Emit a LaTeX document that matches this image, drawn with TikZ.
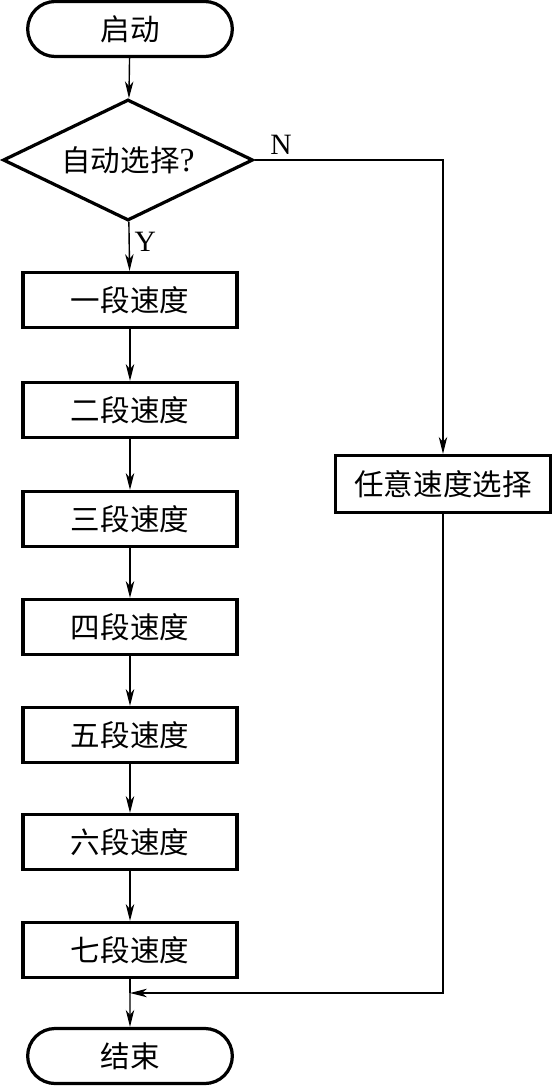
\documentclass[tikz,border=0pt]{standalone}
\usepackage{fontspec}
\setmainfont{Liberation Serif}
\newfontfamily\cjk{Noto Sans CJK SC}
\usetikzlibrary{arrows.meta,shapes.geometric,shapes.misc}

\begin{document}
\begin{tikzpicture}[
    x=0.025cm, y=-0.025cm,
    term/.style={rounded rectangle, draw, line width=2.3pt, minimum height=1.375cm,
                 minimum width=5.35cm, font=\cjk\fontsize{21}{25}\selectfont},
    box/.style={draw, line width=2.3pt, minimum height=1.37cm,
                minimum width=5.35cm, font=\cjk\fontsize{21}{25}\selectfont},
    choice/.style={diamond, draw, line width=2.3pt, aspect=2.07, inner sep=0pt,
                   minimum width=6.25cm, minimum height=3.025cm,
                   font=\cjk\fontsize{21}{25}\selectfont},
    flow/.style={-{Stealth[length=12pt, width=6pt, inset=3.5pt]}, line width=1pt},
    note/.style={font=\fontsize{21}{25}\selectfont},
]
    \useasboundingbox (0,0) rectangle (552,1087);

    \node[term] (start) at (130,29) {启动};
    \node[choice] (auto) at (128,160) {自动选择{\rmfamily\fontsize{24}{26}\selectfont ?}};
    \node[box] (s1) at (130,300) {一段速度};
    \node[box] (s2) at (130,410) {二段速度};
    \node[box] (s3) at (130,519) {三段速度};
    \node[box] (s4) at (130,627) {四段速度};
    \node[box] (s5) at (130,735) {五段速度};
    \node[box] (s6) at (130,842) {六段速度};
    \node[box] (s7) at (130,950) {七段速度};
    \node[box, minimum width=5.375cm, minimum height=1.425cm] (free) at (443,484) {任意速度选择};
    \node[term] (stop) at (130,1056) {结束};
    \coordinate (join) at (130,993);

    \draw[flow] (start) -- (auto);
    \draw[flow] (auto) -- node[right, note, pos=0.4] {Y} (s1);
    \draw[flow] (s1) -- (s2);
    \draw[flow] (s2) -- (s3);
    \draw[flow] (s3) -- (s4);
    \draw[flow] (s4) -- (s5);
    \draw[flow] (s5) -- (s6);
    \draw[flow] (s6) -- (s7);
    \draw[line width=1pt] (s7) -- (join);
    \draw[flow] (join) -- (stop);
    \draw[flow] (auto.east) -| node[above, note, pos=0.07] {N} (free);
    \draw[flow] (free) |- (join);

\end{tikzpicture}
\end{document}
